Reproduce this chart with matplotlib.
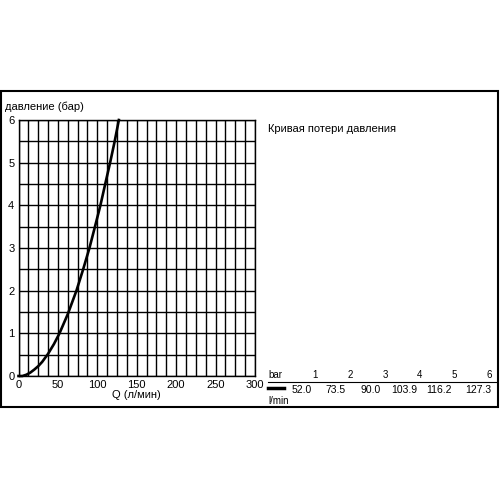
import matplotlib
matplotlib.use("Agg")
import matplotlib.pyplot as plt
from matplotlib.patches import Rectangle
import numpy as np

plt.rcParams['font.family'] = ['Liberation Sans', 'DejaVu Sans']

# curve (Q in l/min, pressure in bar)
q_curve = [0, 5, 10, 15, 20, 25, 30, 37.5, 45, 52.0, 62.5, 73.5, 82, 90.0,
           97, 103.9, 110, 116.2, 122, 127.3]
p_curve = [0, 0.0, 0.03, 0.08, 0.15, 0.23, 0.33, 0.52, 0.75, 1.0, 1.45, 2.0, 2.5, 3.0,
           3.5, 4.0, 4.5, 5.0, 5.5, 6.0]

# table values
bar_vals = [1, 2, 3, 4, 5, 6]
lmin_vals = ["52.0", "73.5", "90.0", "103.9", "116.2", "127.3"]

fig = plt.figure(figsize=(5, 5), dpi=100)

# outer frame
fig.patches.append(Rectangle((0.002, 0.186), 0.994, 0.632, transform=fig.transFigure,
                             fill=False, edgecolor='black', linewidth=1.5))

ax = fig.add_axes([0.037, 0.248, 0.473, 0.512])
ax.set_xlim(0, 300)
ax.set_ylim(0, 6)
ax.set_xticks(np.arange(0, 301, 12.5), minor=True)
ax.set_yticks(np.arange(0, 6.01, 0.5), minor=True)
ax.set_xticks([0, 50, 100, 150, 200, 250, 300])
ax.set_yticks([0, 1, 2, 3, 4, 5, 6])
ax.grid(which='both', color='black', linewidth=1.0)
ax.tick_params(which='both', length=0, labelsize=8, pad=3)
for s in ax.spines.values():
    s.set_linewidth(1.0)
ax.plot(q_curve, p_curve, color='black', linewidth=1.9, clip_on=False, zorder=5,
        solid_joinstyle='round')
ax.set_xlabel("Q (л/мин)", fontsize=8, labelpad=0)
fig.text(0.01, 0.78, "давление (бар)", fontsize=8, va='baseline')

fig.text(0.536, 0.736, "Кривая потери давления", fontsize=8, va='baseline')

# table
fig.text(0.536, 0.244, "bar", fontsize=7, va='baseline')
fig.text(0.536, 0.192, "l/min", fontsize=7, va='baseline')
fig.add_artist(plt.Line2D([0.536, 0.994], [0.237, 0.237], color='black', linewidth=0.8))
fig.add_artist(plt.Line2D([0.536, 0.568], [0.225, 0.225], color='black', linewidth=2.5))
hx = [0.636, 0.706, 0.776, 0.844, 0.914, 0.984]
vx = [0.624, 0.692, 0.762, 0.834, 0.904, 0.982]
for i in range(6):
    fig.text(hx[i], 0.244, str(bar_vals[i]), fontsize=7, ha='right', va='baseline')
    fig.text(vx[i], 0.214, lmin_vals[i], fontsize=7.5, ha='right', va='baseline')

fig.savefig("out.png", dpi=100)
